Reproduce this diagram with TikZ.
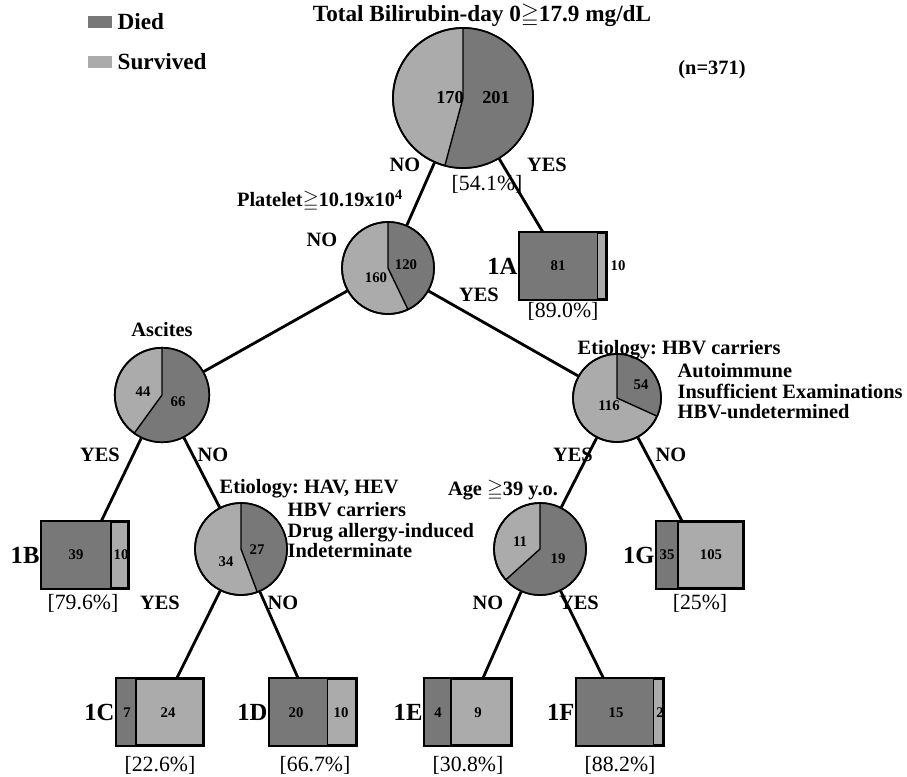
\documentclass[tikz,border=0pt]{standalone}
\usepackage{amsmath}
\usepackage{amssymb}
\usepackage{fontspec}
\setmainfont{Liberation Serif}
\usetikzlibrary{calc}
\frenchspacing

\definecolor{died}{gray}{0.47}
\definecolor{surv}{gray}{0.67}

\tikzset{
  pie/.style={circle, draw, line width=1.2pt, fill=surv, inner sep=0pt, minimum size=#1},
  leaf/.style={rectangle, draw, line width=1.2pt, fill=surv, inner sep=0pt,
    minimum width=2.15cm, minimum height=1.65cm},
  edge/.style={line width=2pt},
  lbl/.style={font=\bfseries\fontsize{14.5}{14.5}\selectfont, inner sep=1pt},
  big/.style={font=\bfseries\fontsize{16.5}{18}\selectfont, inner sep=1pt},
  num/.style={font=\bfseries\fontsize{10.5}{11}\selectfont, inner sep=0pt},
  tag/.style={font=\bfseries\fontsize{17.5}{19}\selectfont, inner sep=1pt},
  pct/.style={font=\fontsize{15.5}{17}\selectfont, inner sep=1pt},
  swatch/.style={rectangle, fill=#1, minimum width=0.62cm, minimum height=0.3cm, inner sep=0pt}
}

\newcommand\pieslice[3]{%
  \fill[died] (#1.center) -- ++(90:#2) arc[start angle=90, delta angle=-#3, radius=#2] -- cycle;
  \draw[line width=1pt] (#1.center) ++(90:#2) -- (#1.center) -- ++({90-#3}:#2);
  \draw[line width=1.2pt] (#1.center) circle[radius=#2];}

\newcommand\leafbox[4]{%
  \node[leaf] (#1) at (#2,#3) {};
  \fill[died] (#1.north west) rectangle ($(#1.south west)!#4!(#1.south east)$);
  \draw[line width=1pt] ($(#1.north west)!#4!(#1.north east)$) -- ($(#1.south west)!#4!(#1.south east)$);
  \draw[line width=1.2pt] (#1.north west) rectangle (#1.south east);}

\begin{document}
\begin{tikzpicture}[x=0.025cm, y=-0.025cm]
  \path[use as bounding box, fill=white] (0,0) rectangle (907,776);

  \node[swatch=died] (keyd) at (100,22) {};
  \node[big, anchor=west] (keydt) at (116,22) {Died};
  \node[swatch=surv] (keys) at (100,62) {};
  \node[big, anchor=west] (keyst) at (116,62) {Survived};
  \node[big] (title) at (482,16) {Total Bilirubin-day 0$\geqq$17.9 mg/dL};
  \node[lbl] (total) at (712,70) {(n=371)};

  \node[pie=3.5cm] (p0) at (463,98) {};
  \pieslice{p0}{1.75cm}{195.0}
  \node[pie=2.3cm] (p1) at (388,268) {};
  \pieslice{p1}{1.15cm}{154.3}
  \node[pie=2.36cm] (p2) at (162,395) {};
  \pieslice{p2}{1.18cm}{216}
  \node[pie=2.2cm] (p3) at (617,398) {};
  \pieslice{p3}{1.1cm}{114.4}
  \node[pie=2.3cm] (p4) at (241,549) {};
  \pieslice{p4}{1.15cm}{159.3}
  \node[pie=2.3cm] (p5) at (540,549) {};
  \pieslice{p5}{1.15cm}{228}

  \leafbox{b1A}{563}{266}{0.89}
  \leafbox{b1B}{85}{555}{0.796}
  \leafbox{b1G}{700}{555}{0.25}
  \leafbox{b1C}{160}{712}{0.226}
  \leafbox{b1D}{313}{712}{0.667}
  \leafbox{b1E}{468}{712}{0.308}
  \leafbox{b1F}{620}{712}{0.882}

  \draw[edge] (p0) -- (p1);
  \draw[edge] (p0) -- (b1A);
  \draw[edge] (p1) -- (p2);
  \draw[edge] (p1) -- (p3);
  \draw[edge] (p2) -- (b1B);
  \draw[edge] (p2) -- (p4);
  \draw[edge] (p3) -- (p5);
  \draw[edge] (p3) -- (b1G);
  \draw[edge] (p4) -- (b1C);
  \draw[edge] (p4) -- (b1D);
  \draw[edge] (p5) -- (b1E);
  \draw[edge] (p5) -- (b1F);

  \node[num, font=\bfseries\fontsize{13}{14}\selectfont] (n0s) at (450,98) {170};
  \node[num, font=\bfseries\fontsize{13}{14}\selectfont] (n0d) at (496,98) {201};
  \node[num] (n1s) at (376,278) {160};
  \node[num] (n1d) at (406,265) {120};
  \node[num] (n2s) at (143,392) {44};
  \node[num] (n2d) at (178,402) {66};
  \node[num] (n3d) at (641,385) {54};
  \node[num] (n3s) at (609,406) {116};
  \node[num] (n4s) at (226,562) {34};
  \node[num] (n4d) at (257,550) {27};
  \node[num] (n5s) at (520,542) {11};
  \node[num] (n5d) at (558,559) {19};

  \node[lbl] (no0) at (405,165) {NO};
  \node[lbl] (yes0) at (547,165) {YES};
  \node[pct] (pc0) at (487,184) {[54.1\%]};
  \node[lbl] (plt) at (320,201) {Platelet$\geqq$10.19x10\textsuperscript{4}};
  \node[lbl] (no1) at (322,240) {NO};
  \node[lbl] (yes1) at (479,295) {YES};
  \node[lbl] (asc) at (162,330) {Ascites};
  \node[lbl] (yes2) at (100,455) {YES};
  \node[lbl] (no2) at (213,455) {NO};
  \node[lbl, anchor=west] (eti3) at (576,350) {Etiology: HBV carriers};
  \node[lbl, anchor=north west, align=left] (eti3b) at (676,362) {Autoimmune\\Insufficient Examinations\\HBV-undetermined};
  \node[lbl] (yes3) at (573,455) {YES};
  \node[lbl] (no3) at (671,455) {NO};
  \node[lbl, anchor=west] (eti4) at (218,489) {Etiology: HAV, HEV};
  \node[lbl, anchor=north west, align=left] (eti4b) at (286,501) {HBV carriers\\Drug allergy-induced\\Indeterminate};
  \node[lbl] (yes4) at (160,603) {YES};
  \node[lbl] (no4) at (283,603) {NO};
  \node[lbl] (age) at (503,490) {Age $\geqq$39 y.o.};
  \node[lbl] (no5) at (488,603) {NO};
  \node[lbl] (yes5) at (579,603) {YES};

  \node[tag, anchor=east] (t1A) at (b1A.west) {1A};
  \node[num] (d1A) at (558,266) {81};
  \node[num] (s1A) at (618,266) {10};
  \node[pct] (pc1A) at (563,311) {[89.0\%]};
  \node[tag, anchor=east] (t1B) at (b1B.west) {1B};
  \node[num] (d1B) at (76,555) {39};
  \node[num] (s1B) at (121,555) {10};
  \node[pct] (pc1B) at (83,603) {[79.6\%]};
  \node[tag, anchor=east] (t1G) at (b1G.west) {1G};
  \node[num] (d1G) at (667,555) {35};
  \node[num] (s1G) at (711,555) {105};
  \node[pct] (pc1G) at (700,603) {[25\%]};
  \node[tag, anchor=east] (t1C) at (b1C.west) {1C};
  \node[num] (d1C) at (127,713) {7};
  \node[num] (s1C) at (168,713) {24};
  \node[pct] (pc1C) at (160,765) {[22.6\%]};
  \node[tag, anchor=east] (t1D) at (b1D.west) {1D};
  \node[num] (d1D) at (296,713) {20};
  \node[num] (s1D) at (341,713) {10};
  \node[pct] (pc1D) at (315,765) {[66.7\%]};
  \node[tag, anchor=east] (t1E) at (b1E.west) {1E};
  \node[num] (d1E) at (438,713) {4};
  \node[num] (s1E) at (478,713) {9};
  \node[pct] (pc1E) at (468,765) {[30.8\%]};
  \node[tag, anchor=east] (t1F) at (b1F.west) {1F};
  \node[num] (d1F) at (616,713) {15};
  \node[num] (s1F) at (660,713) {2};
  \node[pct] (pc1F) at (620,765) {[88.2\%]};
\end{tikzpicture}
\end{document}
